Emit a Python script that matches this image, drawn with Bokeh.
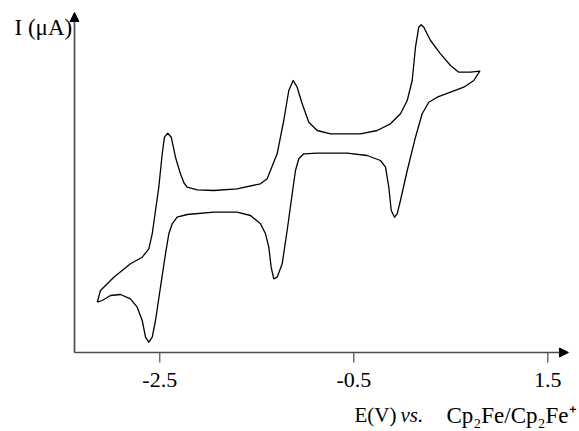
from bokeh.plotting import figure
from bokeh.models import Range1d, Arrow, NormalHead, ColumnDataSource
from bokeh.core.properties import value
from bokeh.embed import file_html
from bokeh.resources import INLINE

# Cyclic voltammogram: potential E (V vs Fc/Fc+) and current I (arbitrary, uA)
E = [-3.145, -3.111, -2.974, -2.802, -2.681, -2.613, -2.578, -2.544, -2.510, -2.475,
     -2.452, -2.418, -2.382, -2.338, -2.287, -2.250, -2.218, -2.114, -1.943, -1.702, -1.462,
     -1.393, -1.359, -1.290, -1.222, -1.170, -1.125, -1.084, -1.032, -0.964, -0.877,
     -0.740, -0.431, -0.259, -0.122, -0.019, 0.051, 0.102, 0.136, 0.170, 0.195,
     0.222, 0.291, 0.394, 0.497, 0.582, 0.703, 0.799,
     0.737, 0.634, 0.497, 0.360, 0.273, 0.205, 0.136, 0.051, -0.019, -0.053,
     -0.080, -0.114, -0.139, -0.173, -0.225, -0.362, -0.568, -0.877, -1.015, -1.067,
     -1.101, -1.135, -1.187, -1.238, -1.290, -1.325, -1.352, -1.376, -1.410, -1.462,
     -1.565, -1.702, -1.943, -2.218, -2.321, -2.372, -2.407, -2.441, -2.493, -2.544,
     -2.578, -2.613, -2.647, -2.681, -2.733, -2.802, -2.905, -3.008, -3.094, -3.145]
I = [5.03, 6.2, 7.53, 8.87, 9.53, 10.37, 11.87, 14.2, 16.53, 19.87,
     21.53, 21.93, 21.53, 19.53, 17.87, 16.95, 16.53, 16.27, 16.2, 16.37, 16.87,
     17.37, 18.2, 19.87, 23.2, 26.2, 27.2, 26.53, 24.87, 23.03, 22.2,
     21.87, 21.87, 22.2, 22.87, 23.87, 25.2, 27.2, 30.53, 32.53, 32.77,
     32.53, 31.2, 29.87, 28.7, 28.03, 28.03, 28.13,
     27.2, 26.53, 26.03, 25.53, 25.03, 23.87, 21.53, 18.2, 15.2, 13.87,
     13.53, 14.2, 16.53, 18.53, 19.2, 19.7, 19.93, 19.93, 19.87, 19.37,
     18.2, 15.87, 12.2, 8.87, 7.53, 7.37, 8.53, 10.53, 11.87, 12.87,
     13.7, 14.03, 14.03, 13.8, 13.53, 12.87, 11.87, 9.87, 6.53, 3.2,
     1.53, 1.03, 1.53, 3.2, 4.53, 5.37, 5.8, 5.7, 5.2, 5.03]

x_ticks = [-2.5, -0.5, 1.5]
x_tick_labels = ["-2.5", "-0.5", "1.5"]

# axis extents (data units)
ax_x0, ax_x1 = -3.379, 1.713
ax_y0, ax_y1 = 0.0, 34.0
tick_len = 1.0

FONT = "Liberation Serif"
AX = "#4d4d4d"

p = figure(width=578, height=430, output_backend="svg", toolbar_location=None,
           x_range=Range1d(-4.142, 1.8165), y_range=Range1d(-7.8, 35.2),
           x_axis_location=None, y_axis_location=None,
           min_border=0, min_border_left=0, min_border_right=0,
           min_border_top=0, min_border_bottom=0)
p.background_fill_color = "white"
p.border_fill_color = "white"
p.outline_line_color = None
p.grid.visible = False

# curve
p.line(E, I, line_color="black", line_width=1.3, line_join="round")

# axes with arrowheads
p.add_layout(Arrow(end=NormalHead(size=9, fill_color="black", line_color="black"),
                   x_start=ax_x0, y_start=ax_y0, x_end=ax_x1, y_end=ax_y0,
                   line_color=AX, line_width=1.7))
p.add_layout(Arrow(end=NormalHead(size=9, fill_color="black", line_color="black"),
                   x_start=ax_x0, y_start=ax_y0, x_end=ax_x0, y_end=ax_y1,
                   line_color=AX, line_width=1.7))

# ticks and tick labels
tsrc = ColumnDataSource(dict(x=x_ticks, y0=[ax_y0] * len(x_ticks),
                             y1=[ax_y0 - tick_len] * len(x_ticks),
                             ly=[-2.72] * len(x_ticks), text=x_tick_labels))
p.segment(x0="x", y0="y0", x1="x", y1="y1", source=tsrc, line_color=AX, line_width=1.2)
p.text(x="x", y="ly", text="text", source=tsrc, text_align="center",
       text_baseline="middle", text_font=value(FONT), text_font_size="22px",
       text_color="black")

# axis titles
p.text(x=[-3.403], y=[32.5], text=["I (μA)"], text_align="right",
       text_baseline="middle", text_font=value(FONT), text_font_size="23px",
       text_color="black")
p.text(x=[-0.493], y=[-6.27], text=["E(V)"], text_align="left",
       text_baseline="middle", text_font=value(FONT), text_font_size="21px",
       text_color="black")
p.text(x=[-0.019], y=[-6.27], text=["vs."], text_align="left",
       text_baseline="middle", text_font=value(FONT), text_font_size="21px",
       text_font_style="italic", text_color="black")
p.text(x=[1.796], y=[-6.27], text=["Cp₂Fe/Cp₂Fe⁺"], text_align="right",
       text_baseline="middle", text_font=value(FONT), text_font_size="23px",
       text_color="black")

open("out.html", "w").write(file_html(p, INLINE))
